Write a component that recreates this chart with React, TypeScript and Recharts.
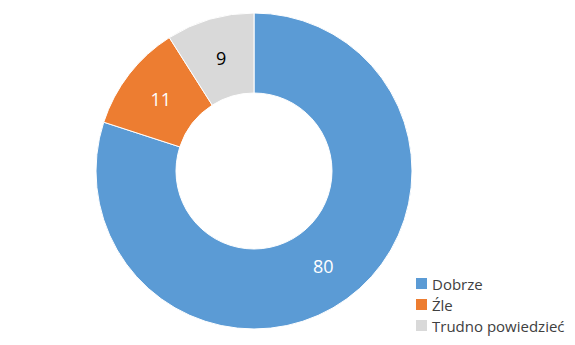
import { PieChart, Pie, Cell, Legend } from "recharts";

const categories = ["Dobrze", "Źle", "Trudno powiedzieć"];
const values = [80, 11, 9];
const colors = ["#5B9BD5", "#ED7D31", "#D9D9D9"];
const labelColors = ["#FFFFFF", "#FFFFFF", "#000000"];

const data = categories.map((name, i) => ({ name, value: values[i] }));

const RADIAN = Math.PI / 180;

function renderLabel(props: any) {
  const { cx, cy, midAngle, innerRadius, outerRadius, index, value } = props;
  const r = (innerRadius + outerRadius) / 2;
  const x = cx + r * Math.cos(-midAngle * RADIAN);
  const y = cy + r * Math.sin(-midAngle * RADIAN);
  return (
    <text
      x={x}
      y={y}
      fill={labelColors[index]}
      textAnchor="middle"
      dominantBaseline="central"
      fontSize={18}
      fontFamily="Open Sans"
    >
      {value}
    </text>
  );
}

function renderLegend() {
  return (
    <div style={{ fontFamily: "Open Sans", fontSize: 15, color: "#404040" }}>
      {categories.map((c, i) => (
        <div key={c} style={{ display: "flex", alignItems: "center", height: 21 }}>
          <span
            style={{
              display: "inline-block",
              width: 11,
              height: 11,
              background: colors[i],
              marginRight: 5,
            }}
          />
          <span style={{ whiteSpace: "nowrap" }}>{c}</span>
        </div>
      ))}
    </div>
  );
}

export default function App() {
  return (
    <div style={{ position: "absolute", left: 0, top: 0, background: "#fff" }}>
      <PieChart width={575} height={345} margin={{ top: 0, right: 0, bottom: 0, left: 0 }}>
        <Pie
          data={data}
          dataKey="value"
          nameKey="name"
          cx={254}
          cy={171}
          innerRadius={78}
          outerRadius={158}
          startAngle={90}
          endAngle={-270}
          stroke="#FFFFFF"
          strokeWidth={1}
          labelLine={false}
          label={renderLabel}
          isAnimationActive={false}
        >
          {data.map((entry, index) => (
            <Cell key={`cell-${index}`} fill={colors[index]} />
          ))}
        </Pie>
        <Legend
          content={renderLegend}
          wrapperStyle={{ left: 416, top: 273, width: 160 }}
        />
      </PieChart>
    </div>
  );
}
